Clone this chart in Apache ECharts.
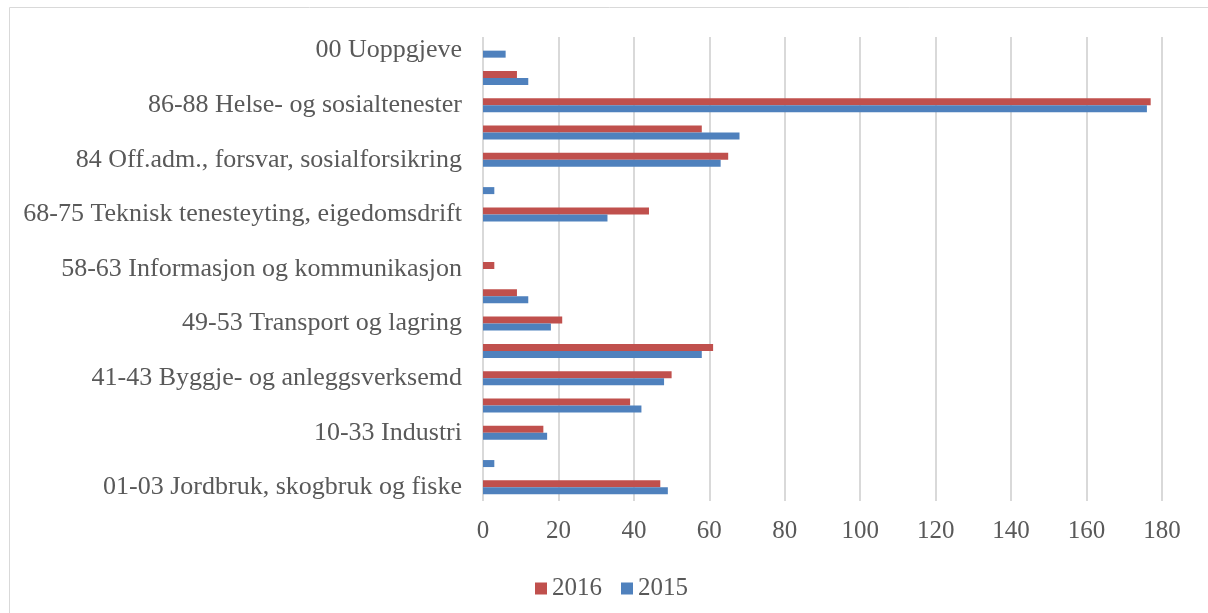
<!DOCTYPE html>
<html><head><meta charset="utf-8">
<script src="https://cdn.jsdelivr.net/npm/echarts@6/dist/echarts.min.js"></script>
<style>html,body{margin:0;padding:0;background:#fff}#c{width:1208px;height:613px}</style>
</head><body><div id="c"></div>
<script>
const categories = [
  "01-03 Jordbruk, skogbruk og fiske",
  "05-09 Bergverksdrift og utvinning",
  "10-33 Industri",
  "35-39 Elektrisitet, vatn og renovasjon",
  "41-43 Byggje- og anleggsverksemd",
  "45-47 Varehandel, reparasjon av motorvogner",
  "49-53 Transport og lagring",
  "55-56 Overnattings- og serveringsverksemd",
  "58-63 Informasjon og kommunikasjon",
  "64-66 Finansiering og forsikring",
  "68-75 Teknisk tenesteyting, eigedomsdrift",
  "77-82 Forretningsmessig tenesteyting",
  "84 Off.adm., forsvar, sosialforsikring",
  "85 Undervisning",
  "86-88 Helse- og sosialtenester",
  "90-99 Personleg tenesteyting",
  "00 Uoppgjeve"
];
const values2016 = [47, 0, 16, 39, 50, 61, 21, 9, 3, 0, 44, 0, 65, 58, 177, 9, 0];
const values2015 = [49, 3, 17, 42, 48, 58, 18, 12, 0, 0, 33, 3, 63, 68, 176, 12, 6];
const xTicks = [0, 20, 40, 60, 80, 100, 120, 140, 160, 180];

const font = "'Liberation Serif', serif";
const chart = echarts.init(document.getElementById('c'));
chart.setOption({
  animation: false,
  graphic: [{type:'rect', shape:{x:9.5,y:7.5,width:1400,height:800}, style:{fill:'none', stroke:'#d9d9d9', lineWidth:1}}],
  grid: {left: 483, right: 46, top: 37, bottom: 112},
  legend: {
    data: ['2016', '2015'], top: 571, left: 530,
    itemWidth: 12, itemHeight: 12, itemGap: 19, icon: 'rect',
    textStyle: {fontFamily: font, fontSize: 25, color: '#595959', padding:[0,0,0,0]}
  },
  xAxis: {
    type: 'value', min: 0, max: 180, interval: 20,
    axisLine: {show: false}, axisTick: {show: false},
    splitLine: {lineStyle: {color: '#d9d9d9', width: 2}},
    axisLabel: {fontFamily: font, fontSize: 25, color: '#595959', margin: 18,
      formatter: v => xTicks.includes(v) ? String(v) : ''}
  },
  yAxis: {
    type: 'category', data: categories,
    axisLine: {show: false}, axisTick: {show: false},
    axisLabel: {interval: 1, fontFamily: font, fontSize: 26, color: '#595959', margin: 21}
  },
  series: [
    {name: '2016', type: 'bar', data: values2016, barWidth: 7, barGap: '0%',
      itemStyle: {color: '#c0504d'}},
    {name: '2015', type: 'bar', data: values2015, barWidth: 7, barGap: '0%',
      itemStyle: {color: '#4f81bd'}}
  ]
});
</script></body></html>
